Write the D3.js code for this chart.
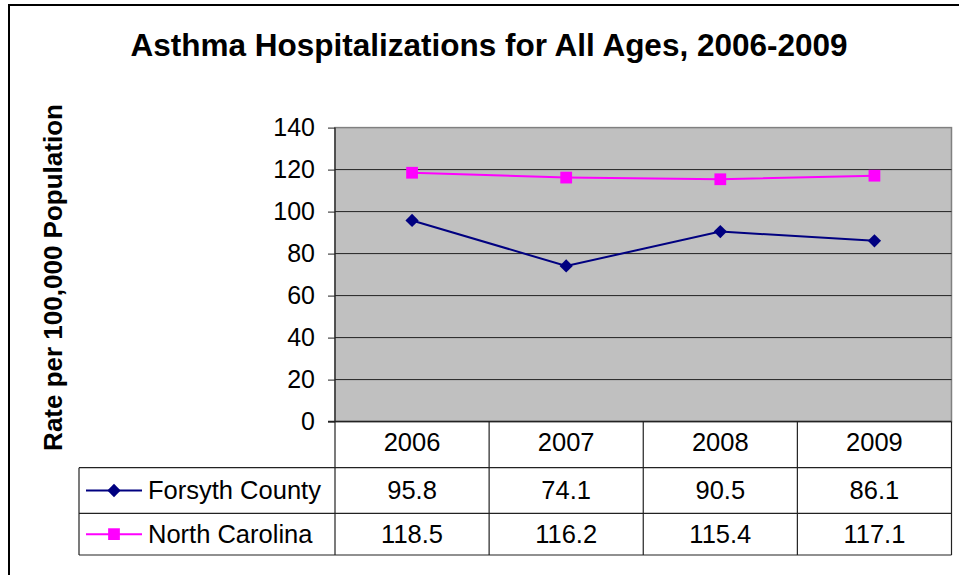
<!DOCTYPE html>
<html><head><meta charset="utf-8">
<script src="https://cdn.jsdelivr.net/npm/d3@7"></script>
<style>
html,body{margin:0;padding:0;background:#fff;}
svg{display:block;font-family:"Liberation Sans",Arial,sans-serif;}
</style></head>
<body>
<svg id="chart" width="959" height="575"></svg>
<script>
const title = "Asthma Hospitalizations for All Ages, 2006-2009";
const yTitle = "Rate per 100,000 Population";
const categories = ["2006", "2007", "2008", "2009"];
const seriesNames = ["Forsyth County", "North Carolina"];
const forsyth = [95.8, 74.1, 90.5, 86.1];
const northCarolina = [118.5, 116.2, 115.4, 117.1];
const yTicks = [0, 20, 40, 60, 80, 100, 120, 140];
const seriesColors = ["#000080", "#FF00FF"];

const svg = d3.select("#chart");
const L = 335, R = 951.5, T = 127.6, B = 421.6;
const row1B = 467.7, row2B = 513.3, row3B = 555, legL = 79;
const tableFont = 25.5;

// outer frame
svg.append("rect").attr("x", 9).attr("y", 5).attr("width", 980).attr("height", 600)
  .attr("fill", "none").attr("stroke", "#000").attr("stroke-width", 2);

const x = d3.scaleBand().domain(categories).range([L, R]).padding(0);
const y = d3.scaleLinear().domain([0, 140]).range([B, T]);

// plot background
svg.append("rect").attr("x", L).attr("y", T).attr("width", R - L).attr("height", B - T)
  .attr("fill", "#C0C0C0").attr("stroke", "#808080").attr("stroke-width", 1.5);

// gridlines
svg.append("g").selectAll("line").data(yTicks.filter(d => d > 0 && d < 140)).join("line")
  .attr("x1", L).attr("x2", R).attr("y1", d => y(d)).attr("y2", d => y(d))
  .attr("stroke", "#222").attr("stroke-width", 1);

// y axis
const yAxis = d3.axisLeft(y).tickValues(yTicks).tickSize(7).tickPadding(13).tickFormat(d3.format("d"));
const gy = svg.append("g").attr("transform", `translate(${L},0)`).call(yAxis);
gy.select(".domain").remove();
gy.selectAll(".tick line").attr("stroke", "#222");
gy.selectAll(".tick text").attr("font-size", 25).attr("fill", "#000")
  .attr("font-family", "Liberation Sans, Arial, sans-serif");
svg.append("line").attr("x1", L).attr("x2", L).attr("y1", T).attr("y2", row3B)
  .attr("stroke", "#222").attr("stroke-width", 1.2);

// x axis line & table
const tableStroke = "#222";
svg.append("line").attr("x1", L - 7).attr("x2", R).attr("y1", B).attr("y2", B)
  .attr("stroke", tableStroke).attr("stroke-width", 1.5);
[row1B, row2B, row3B].forEach(yy => {
  svg.append("line").attr("x1", legL).attr("x2", R).attr("y1", yy).attr("y2", yy)
    .attr("stroke", tableStroke).attr("stroke-width", 1.2);
});
svg.append("line").attr("x1", legL).attr("x2", legL).attr("y1", row1B).attr("y2", row3B)
  .attr("stroke", tableStroke).attr("stroke-width", 1.2);
svg.append("g").selectAll("line").data(categories).join("line")
  .attr("x1", d => x(d) + x.bandwidth()).attr("x2", d => x(d) + x.bandwidth())
  .attr("y1", B).attr("y2", row3B).attr("stroke", tableStroke).attr("stroke-width", 1.2);

// header
svg.append("g").selectAll("text").data(categories).join("text")
  .attr("x", d => x(d) + x.bandwidth() / 2).attr("y", 451)
  .attr("text-anchor", "middle").attr("font-size", tableFont).text(d => d);

const seriesData = [forsyth, northCarolina];
const rowY = [499, 543];
seriesData.forEach((vals, si) => {
  svg.append("g").selectAll("text").data(vals).join("text")
    .attr("x", (d, i) => x(categories[i]) + x.bandwidth() / 2).attr("y", rowY[si])
    .attr("text-anchor", "middle").attr("font-size", tableFont).text(d => d.toFixed(1));
});

// lines
const line = d3.line().x((d, i) => x(categories[i]) + x.bandwidth() / 2).y(d => y(d));
function marker(g, si, cx, cy) {
  if (si === 0) {
    g.append("path").attr("d", d3.symbol().type(d3.symbolSquare).size(88)())
      .attr("transform", `translate(${cx},${cy}) rotate(45)`).attr("fill", seriesColors[0]);
  } else {
    g.append("path").attr("d", d3.symbol().type(d3.symbolSquare).size(138)())
      .attr("transform", `translate(${cx},${cy})`).attr("fill", seriesColors[1]);
  }
}
seriesData.forEach((vals, si) => {
  const g = svg.append("g");
  g.append("path").datum(vals).attr("d", line).attr("fill", "none")
    .attr("stroke", seriesColors[si]).attr("stroke-width", 2);
  vals.forEach((v, i) => marker(g, si, x(categories[i]) + x.bandwidth() / 2, y(v)));
  // legend
  const ly = (si === 0 ? (row1B + row2B) / 2 : (row2B + row3B) / 2);
  g.append("line").attr("x1", 86).attr("x2", 142).attr("y1", ly).attr("y2", ly)
    .attr("stroke", seriesColors[si]).attr("stroke-width", 2);
  marker(g, si, 114, ly);
  g.append("text").attr("x", 148).attr("y", rowY[si]).attr("font-size", tableFont).text(seriesNames[si]);
});

// titles
svg.append("text").attr("x", 489).attr("y", 56).attr("text-anchor", "middle")
  .attr("font-size", 31.5).attr("font-weight", "bold").text(title);
svg.append("text").attr("transform", "translate(61.5,277.5) rotate(-90)")
  .attr("text-anchor", "middle").attr("font-size", 26).attr("font-weight", "bold").text(yTitle);
</script>
</body></html>
